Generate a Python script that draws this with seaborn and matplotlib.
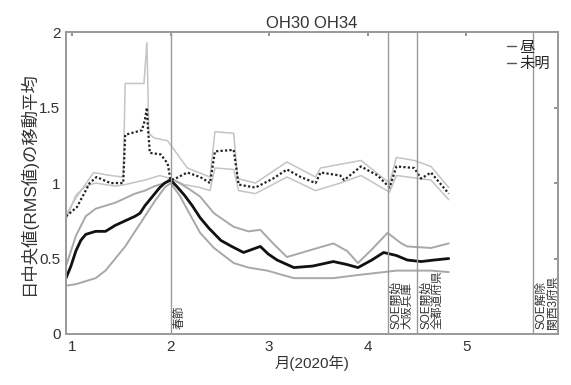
import matplotlib
matplotlib.use("Agg")
import matplotlib.pyplot as plt
import seaborn as sns

sns.set_theme(style="white")
plt.rcParams['font.family'] = ['Liberation Sans', 'Noto Sans CJK JP', 'DejaVu Sans']

# 昼 (daytime) median and band
day_x = [0.94, 0.99, 1.04, 1.09, 1.14, 1.24, 1.34, 1.44, 1.54, 1.64, 1.69, 1.74, 1.84, 1.89, 1.94, 2.0,
         2.06, 2.14, 2.22, 2.3, 2.39, 2.51, 2.62, 2.74, 2.91, 2.99, 3.08, 3.25, 3.44, 3.65, 3.79,
         3.9, 4.04, 4.16, 4.29, 4.4, 4.54, 4.67, 4.82]
day_med = [0.37, 0.45, 0.55, 0.62, 0.66, 0.68, 0.68, 0.72, 0.75, 0.78, 0.80, 0.85, 0.93, 0.97, 1.0, 1.02,
           0.98, 0.92, 0.85, 0.77, 0.70, 0.62, 0.58, 0.54, 0.58, 0.53, 0.49, 0.44, 0.45, 0.48, 0.46,
           0.44, 0.49, 0.54, 0.52, 0.49, 0.48, 0.49, 0.50]

dayu_x = [0.94, 0.99, 1.04, 1.14, 1.24, 1.34, 1.44, 1.54, 1.64, 1.74, 1.84, 1.94, 2.0, 2.09, 2.19, 2.3,
          2.44, 2.64, 2.79, 2.91, 3.04, 3.18, 3.44, 3.65, 3.79, 3.9, 4.04, 4.2, 4.34, 4.4, 4.64, 4.82]
day_up = [0.45, 0.55, 0.65, 0.78, 0.83, 0.85, 0.87, 0.9, 0.93, 0.95, 0.98, 1.0, 1.03, 1.0, 0.96, 0.91,
          0.8, 0.71, 0.68, 0.69, 0.6, 0.51, 0.56, 0.6, 0.55, 0.47, 0.56, 0.67, 0.6, 0.58, 0.57, 0.6]

dayl_x = [0.94, 1.04, 1.14, 1.24, 1.34, 1.44, 1.54, 1.64, 1.74, 1.84, 1.94, 2.0, 2.09, 2.19, 2.3, 2.44,
          2.64, 2.79, 2.98, 3.14, 3.25, 3.44, 3.65, 3.89, 4.16, 4.29, 4.44, 4.64, 4.82]
day_lo = [0.32, 0.33, 0.35, 0.37, 0.42, 0.5, 0.58, 0.68, 0.78, 0.88, 0.97, 1.0, 0.92, 0.8, 0.67, 0.57,
          0.47, 0.44, 0.42, 0.39, 0.37, 0.37, 0.37, 0.39, 0.41, 0.42, 0.42, 0.42, 0.41]

# 未明 (pre-dawn) median and band
dawn_x = [0.94, 1.05, 1.18, 1.25, 1.39, 1.52, 1.54, 1.71, 1.74, 1.76, 1.77, 1.79, 1.9, 1.97, 2.0,
          2.05, 2.17, 2.3, 2.4, 2.45, 2.64, 2.69, 2.86, 3.04, 3.18, 3.32, 3.47, 3.52, 3.72, 3.76,
          3.93, 4.1, 4.22, 4.29, 4.47, 4.54, 4.64, 4.82]
dawn_med = [0.78, 0.84, 1.0, 1.04, 1.0, 1.0, 1.32, 1.35, 1.42, 1.5, 1.37, 1.2, 1.19, 1.13, 1.02,
            1.03, 1.07, 1.04, 1.0, 1.21, 1.22, 0.99, 0.97, 1.03, 1.09, 1.04, 1.0, 1.07, 1.05, 1.02,
            1.11, 1.05, 0.97, 1.11, 1.1, 1.03, 1.07, 0.93]

dawnu_x = [0.94, 1.04, 1.22, 1.39, 1.52, 1.54, 1.73, 1.74, 1.76, 1.78, 1.83, 1.97, 2.17, 2.4, 2.45,
           2.64, 2.68, 2.86, 3.18, 3.47, 3.52, 3.93, 4.22, 4.29, 4.47, 4.64, 4.82]
dawn_up = [0.79, 0.9, 1.07, 1.05, 1.04, 1.66, 1.66, 1.75, 1.93, 1.33, 1.3, 1.28, 1.1, 1.04, 1.34,
           1.33, 1.03, 1.0, 1.14, 1.04, 1.1, 1.15, 1.0, 1.17, 1.15, 1.11, 0.97]

dawnl_x = [0.94, 1.04, 1.14, 1.24, 1.44, 1.54, 1.74, 1.89, 2.0, 2.14, 2.3, 2.4, 2.45, 2.64, 2.69, 2.86,
           3.18, 3.47, 3.72, 3.93, 4.22, 4.29, 4.64, 4.82]
dawn_lo = [0.76, 0.92, 0.98, 1.0, 0.98, 0.99, 1.02, 1.05, 1.03, 0.99, 0.97, 0.95, 1.1, 1.09, 0.95, 0.93,
           1.04, 0.95, 1.0, 1.05, 0.94, 1.05, 1.02, 0.89]

events_x = [2.0, 4.2, 4.5, 5.67]
events_txt = ["春節", "SOE開始\n大阪兵庫", "SOE開始\n全都道府県", "SOE解除\n関西3府県"]

series_labels = ["昼", "未明"]
xticks = [1, 2, 3, 4, 5]
yticks = [0, 0.5, 1, 1.5, 2]
yticklabels = ["0", "0.5", "1", "1.5", "2"]

fig = plt.figure(figsize=(5.71, 3.85), dpi=100)
ax = fig.add_axes([0.1156, 0.1325, 0.862, 0.784])

band = "#a8a8a8"
light = "#c4c4c4"
sns.lineplot(x=dawnu_x, y=dawn_up, ax=ax, color=light, lw=1.1, sort=False, estimator=None)
sns.lineplot(x=dawnl_x, y=dawn_lo, ax=ax, color=light, lw=1.1, sort=False, estimator=None)
sns.lineplot(x=dayu_x, y=day_up, ax=ax, color=band, lw=1.4, sort=False, estimator=None)
sns.lineplot(x=dayl_x, y=day_lo, ax=ax, color=band, lw=1.4, sort=False, estimator=None)
sns.lineplot(x=dawn_x, y=dawn_med, ax=ax, color="#222222", lw=1.6, linestyle=(0, (1, 1)),
             sort=False, estimator=None, label=series_labels[1])
sns.lineplot(x=day_x, y=day_med, ax=ax, color="#111111", lw=2.0, sort=False, estimator=None,
             label=series_labels[0])

for ex, et in zip(events_x, events_txt):
    ax.axvline(ex, color="#9a9a9a", lw=1.0)
    ax.text(ex + 0.03, 0.03, et, rotation=90, ha="left", va="bottom", fontsize=8.5,
            color="#333333", linespacing=0.9)

ax.set_xlim(0.94, 5.93)
ax.set_ylim(0, 2)
ax.set_xticks(xticks)
ax.set_yticks(yticks)
ax.set_yticklabels(yticklabels)
ax.tick_params(direction="in", top=True, right=True, length=3, labelsize=11,
               color="#888888", labelcolor="#333333", pad=4)
for s in ax.spines.values():
    s.set_color("#999999")
    s.set_linewidth(1.4)

ax.set_title("OH30 OH34", fontsize=12, color="#333333", pad=3)
ax.set_xlabel("月(2020年)", fontsize=11, color="#333333", labelpad=1)
ax.set_ylabel("日中央値(RMS値)の移動平均", fontsize=12.5, color="#333333", labelpad=2)

h, l = ax.get_legend_handles_labels()
order = [l.index(series_labels[0]), l.index(series_labels[1])]
leg = ax.legend([h[i] for i in order], [l[i] for i in order], loc="upper right",
                frameon=False, handlelength=0.6, handletextpad=0.2, fontsize=11,
                labelspacing=0.15, borderaxespad=0.15)
for lh in leg.get_lines():
    lh.set_linewidth(1.0)
    lh.set_linestyle("-")
    lh.set_color("#555555")

fig.savefig("out.png", dpi=100)
